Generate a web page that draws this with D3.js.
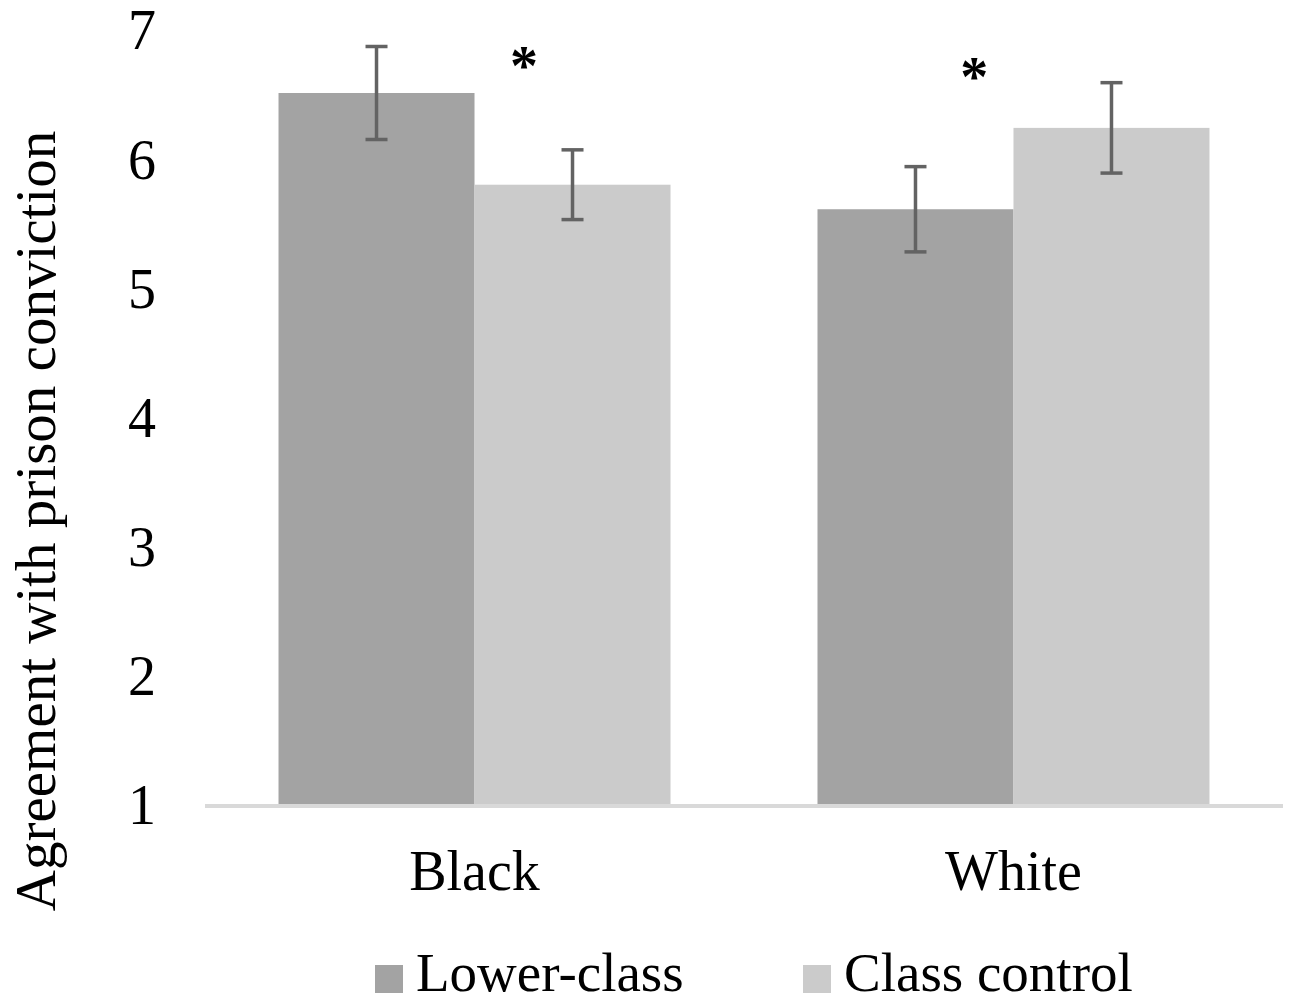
<!DOCTYPE html>
<html>
<head>
<meta charset="utf-8">
<script src="https://cdn.jsdelivr.net/npm/d3@7"></script>
<style>
  html, body { margin: 0; padding: 0; background: #fff; }
  svg { display: block; }
  text { font-family: "Liberation Serif", "Times New Roman", serif; fill: #000; }
</style>
</head>
<body>
<svg id="chart" width="1290" height="1006"></svg>
<script>
// ---- data ----
const categories = ["Black", "White"];
const seriesNames = ["Lower-class", "Class control"];
const lowerClass = [6.52, 5.62];
const classControl = [5.81, 6.25];
const lowerClassErr = [0.36, 0.33];
const classControlErr = [0.27, 0.35];
const yTicks = [1, 2, 3, 4, 5, 6, 7];
const sigMarks = ["*", "*"];
const sigLevels = [6.80, 6.71];

(function () {
// ---- layout ----
const svg = d3.select("#chart");
const plotLeft = 205, plotRight = 1283, plotTop = 31, plotBottom = 806;
const colors = ["#a3a3a3", "#cbcbcb"];

const y = d3.scaleLinear().domain([1, 7]).range([plotBottom, plotTop]);
const x = d3.scaleBand().domain(categories).range([plotLeft, plotRight])
  .paddingInner(0.2727).paddingOuter(0.1364);
const xs = d3.scaleBand().domain(seriesNames).range([0, x.bandwidth()]).padding(0);

const values = [lowerClass, classControl];
const errs = [lowerClassErr, classControlErr];
const rows = [];
categories.forEach((c, i) => {
  seriesNames.forEach((s, j) => {
    rows.push({ cat: c, series: s, j, value: values[j][i], err: errs[j][i] });
  });
});

// bars
svg.append("g").selectAll("rect").data(rows).join("rect")
  .attr("x", d => x(d.cat) + xs(d.series))
  .attr("width", xs.bandwidth())
  .attr("y", d => y(d.value))
  .attr("height", d => y(1) - y(d.value))
  .attr("fill", d => colors[d.j]);

// axis baseline
svg.append("line")
  .attr("x1", plotLeft).attr("x2", plotRight)
  .attr("y1", y(1)).attr("y2", y(1))
  .attr("stroke", "#d9d9d9").attr("stroke-width", 4);

// error bars
const eb = svg.append("g").attr("stroke", "#636363").attr("stroke-width", 3.5);
rows.forEach(d => {
  const cx = x(d.cat) + xs(d.series) + xs.bandwidth() / 2;
  const y1 = y(d.value + d.err), y2 = y(d.value - d.err);
  eb.append("line").attr("x1", cx).attr("x2", cx).attr("y1", y1).attr("y2", y2);
  eb.append("line").attr("x1", cx - 11).attr("x2", cx + 11).attr("y1", y1).attr("y2", y1);
  eb.append("line").attr("x1", cx - 11).attr("x2", cx + 11).attr("y1", y2).attr("y2", y2);
});

// y axis (labels only)
const yAxis = d3.axisLeft(y).tickValues(yTicks).tickSize(0).tickPadding(0).tickFormat(d3.format("d"));
const yg = svg.append("g").attr("transform", "translate(156,0)").call(yAxis);
yg.select(".domain").remove();
yg.selectAll("text").attr("font-size", 56).attr("font-family", "Liberation Serif").attr("fill", "#000").attr("dy", "0.32em");

// x axis labels
const xAxis = d3.axisBottom(x).tickSize(0).tickPadding(0);
const xg = svg.append("g").attr("transform", "translate(0,890)").call(xAxis);
xg.select(".domain").remove();
xg.selectAll("text").attr("font-size", 56).attr("font-family", "Liberation Serif").attr("fill", "#000").attr("dy", 0);

// y title
svg.append("text")
  .attr("transform", `translate(55,${(132 + 910) / 2}) rotate(-90)`)
  .attr("text-anchor", "middle")
  .attr("font-size", 57)
  .text("Agreement with prison conviction");

// significance marks
const sigFrac = [0.626, 0.40];
categories.forEach((c, i) => {
  svg.append("text")
    .attr("x", x(c) + x.bandwidth() * sigFrac[i])
    .attr("y", y(sigLevels[i]))
    .attr("dy", "0.5em")
    .attr("text-anchor", "middle")
    .attr("font-size", 56)
    .attr("font-weight", "bold")
    .text(sigMarks[i]);
});

// legend
const legendX = [375, 803];
seriesNames.forEach((s, j) => {
  const g = svg.append("g").attr("transform", `translate(${legendX[j]},0)`);
  g.append("rect").attr("x", 0).attr("y", 965).attr("width", 28).attr("height", 28).attr("fill", colors[j]);
  g.append("text").attr("x", 41).attr("y", 991).attr("font-size", 55).text(s);
});
})();
</script>
</body>
</html>
